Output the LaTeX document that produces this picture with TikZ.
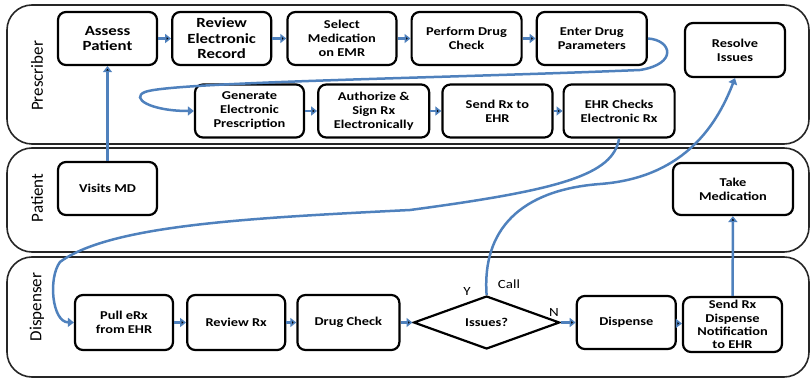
\documentclass[tikz,border=0pt]{standalone}
\usepackage{fontspec}
\setmainfont{Carlito}[FakeStretch=1.2]
\newfontfamily\lanefont{Carlito}
\usepackage{tikz}
\usetikzlibrary{arrows.meta,shapes,positioning}
\usepackage{xcolor}
\definecolor{flowblue}{RGB}{79,129,189}

\begin{document}
\begin{tikzpicture}[x=1pt,y=-1pt,>={Triangle[length=6pt,width=9pt]},node distance=13pt,semithick]
  \tikzstyle{lane}=[draw=black!85,line width=1.6pt,rounded corners=25pt]
  \tikzstyle{lane label}=[rotate=90,font=\lanefont\fontsize{17}{20}\selectfont]
  \tikzstyle{task}=[rectangle,draw=black,line width=2.2pt,rounded corners=8pt,align=center,inner sep=1pt,
                    minimum height=53pt,font=\fontsize{12}{14}\selectfont\bfseries]
  \tikzstyle{big task}=[task,font=\fontsize{14}{15.5}\selectfont\bfseries]
  \tikzstyle{decision}=[diamond,draw=black,line width=2.2pt,aspect=2.7,inner sep=0pt,
                        minimum width=146pt,minimum height=53pt,font=\fontsize{12}{14}\selectfont\bfseries]
  \tikzstyle{flow}=[->,draw=flowblue,line width=2.5pt]
  \tikzstyle{answer}=[font=\fontsize{12.5}{14}\selectfont,inner sep=0pt]

  \useasboundingbox (0,0) rectangle (811,379);

  % swim lanes
  \draw[lane] (7,5) rectangle (809,144);
  \draw[lane] (7,148) rectangle (809,252);
  \draw[lane] (7,257) rectangle (809,377);
  \node[lane label] (presc) at (37,76)  {Prescriber};
  \node[lane label] (pat)   at (37,198) {Patient};
  \node[lane label] (disp)  at (37,307) {Dispenser};

  % prescriber, first row
  \node[big task,minimum width=99pt] (A) at (107.5,38.5) {Assess\\Patient};
  \node[big task,minimum width=99pt] (B) [right=13pt of A] {Review\\Electronic\\Record};
  \node[task,minimum width=109pt] (C) [right=14pt of B] {Select\\Medication\\on EMR};
  \node[task,minimum width=110pt] (D) [right=13pt of C] {Perform Drug\\Check};
  \node[task,minimum width=110pt] (E) [right=13pt of D] {Enter Drug\\Parameters};
  \node[task,minimum width=100pt,minimum height=54pt] (R) at (735,50) {Resolve\\Issues};

  % prescriber, second row
  \node[task,minimum width=109pt] (G) at (249.5,111) {Generate\\Electronic\\Prescription};
  \node[task,minimum width=111pt] (H) [right=12pt of G] {Authorize \&\\Sign Rx\\Electronically};
  \node[task,minimum width=110pt] (I) [right=11pt of H] {Send Rx to\\EHR};
  \node[task,minimum width=111pt] (J) [right=9pt of I] {EHR Checks\\Electronic Rx};

  % patient
  \node[task,minimum width=99pt] (V) at (107.5,188.5) {Visits MD};
  \node[task,minimum width=120pt,minimum height=52pt] (T) at (733,189) {Take\\Medication};

  % dispenser
  \node[task,minimum width=98pt,minimum height=55pt] (P) at (124,322.5) {Pull eRx\\from EHR};
  \node[task,minimum width=98pt,minimum height=55pt] (Q) [right=12pt of P] {Review Rx};
  \node[task,minimum width=102pt,minimum height=55pt] (K) [right=10pt of Q] {Drug Check};
  \node[decision] (X) [right=12pt of K] {Issues?};
  \node[task,minimum width=99pt] (Dp) [right=15pt of X] {Dispense};
  \node[task,minimum width=99pt,minimum height=55pt,font=\fontsize{12}{13.3}\selectfont\bfseries] (S) at (732.5,324.5)
       {Send Rx\\Dispense\\Notification\\to EHR};

  \node[answer] (yes)  at (467,291) {Y};
  \node[answer] (call) at (509,284) {Call};
  \node[answer] (no)   at (554,312) {N};

  \path[flow] (A) edge (B)
              (B) edge (C)
              (C) edge (D)
              (D) edge (E)
              (G) edge (H)
              (H) edge (I)
              (I) edge (J)
              (V) edge (A)
              (P) edge (Q)
              (Q) edge (K)
              (K) edge (X)
              (X) edge (Dp)
              (Dp) edge (S)
              (S) edge (T);

  % long connectors
  \draw[flow] (E.east) .. controls (672,40) and (678,64) .. (640,70)
              .. controls (450,78) and (170,82) .. (145,92)
              .. controls (130,98) and (150,111) .. (G.west);
  \draw[flow] (J.south) .. controls (613,175) and (560,190) .. (410,210)
              .. controls (250,218) and (110,225) .. (60,262)
              .. controls (48,278) and (52,322) .. (P.west);
  \draw[flow] (X.north) .. controls (482,230) and (520,190) .. (600,184)
              .. controls (680,178) and (715,130) .. (R.south);
\end{tikzpicture}
\end{document}
